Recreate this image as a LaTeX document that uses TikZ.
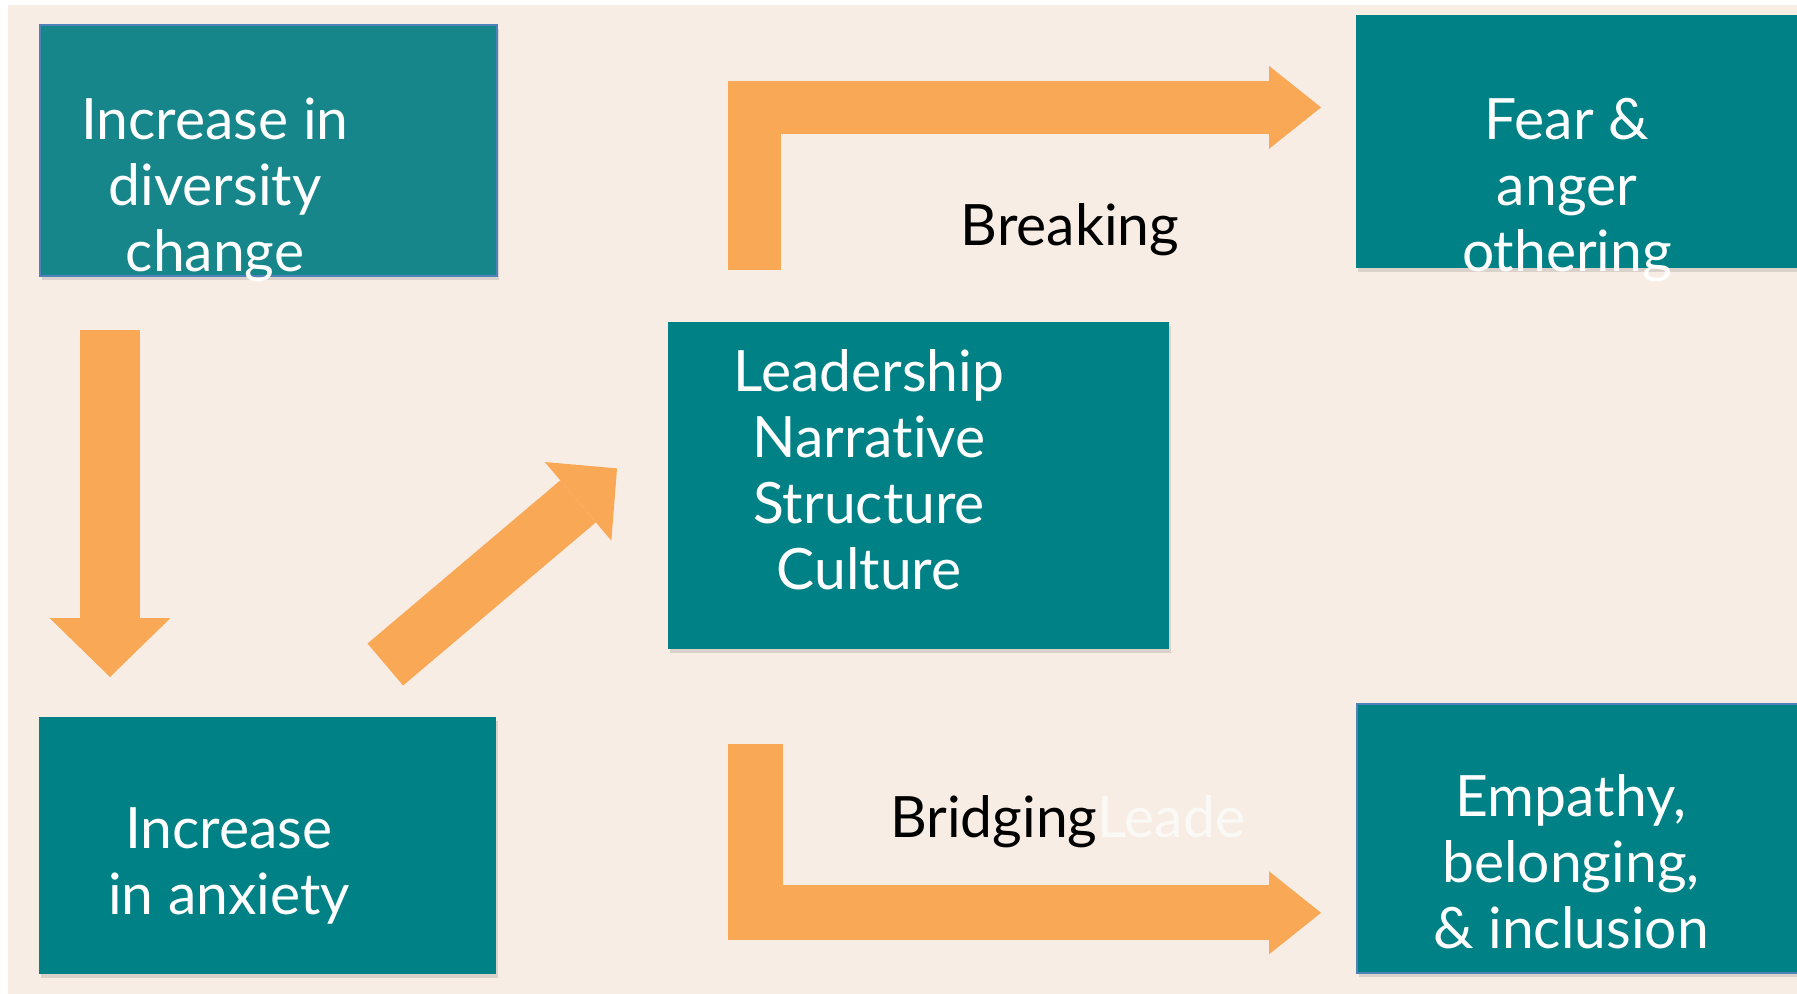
\documentclass[tikz,border=0pt]{standalone}
\usepackage{fontspec}
\setmainfont{Lato}[Ligatures={NoCommon,NoRare}]
\usepackage{tikz}
\usetikzlibrary{arrows.meta,shadows}

\definecolor{beige}{RGB}{247,237,228}
\definecolor{tealbox}{RGB}{0,129,133}
\definecolor{tealsoft}{RGB}{23,134,138}
\definecolor{edgeblue}{RGB}{79,129,189}
\definecolor{flowor}{RGB}{249,168,86}
\definecolor{ghost}{RGB}{251,249,246}

\begin{document}
\begin{tikzpicture}[x=0.5pt,y=-0.5pt,
    box/.style={rectangle,fill=tealbox,anchor=north west,inner sep=0pt,
      drop shadow={shadow xshift=1pt,shadow yshift=-2pt,opacity=0.25}},
    box text/.style={text=white,align=center,font=\fontsize{28.5}{33}\selectfont},
    flow label/.style={text=black,font=\fontsize{28.5}{33}\selectfont},
    flow/.style={draw=flowor,line cap=butt,line join=miter}]
  \useasboundingbox (0,0) rectangle (1797,994);
  \fill[white] (0,0) rectangle (1797,994);
  \fill[beige] (8,5) rectangle (1797,994);

  % boxes
  \node[box,fill=tealsoft,draw=edgeblue,line width=0.8pt,
        minimum width=228.5pt,minimum height=125.5pt] (div) at (39,24) {};
  \node[box,minimum width=228.5pt,minimum height=128.5pt] (anx) at (39,717) {};
  \node[box,minimum width=250.5pt,minimum height=163.5pt] (lead) at (668,322) {};
  \node[box,minimum width=222pt,minimum height=126.5pt] (fear) at (1356,15) {};
  \node[box,draw=edgeblue,line width=0.8pt,
        minimum width=222pt,minimum height=134.5pt] (emp) at (1356,703) {};

  % texts
  \node[box text] (div-txt) at (215,190) {Increase in\\diversity\\change};
  \node[box text] (anx-txt) at (229,866) {Increase\\in anxiety};
  \node[box text] (lead-txt) at (869,470) {Leadership\\Narrative\\Structure\\Culture};
  \node[box text] (fear-txt) at (1567,190) {Fear \&\\anger\\othering};
  \node[box text] (emp-txt) at (1571,862) {Empathy,\\belonging,\\\& inclusion};

  % arrows
  \draw[flow,line width=30pt,-{Triangle[width=60.5pt,length=29.5pt,line width=0pt]}]
    ([xshift=35.5pt,yshift=-26.5pt]div.south west) -- ([xshift=35.5pt,yshift=20pt]anx.north west);
  \draw[flow,line width=27.5pt,-{Triangle[width=51.5pt,length=25.5pt,line width=0pt]}]
    ([xshift=-55.75pt,yshift=26.25pt]anx.north east) -- ([xshift=-25.5pt,yshift=8.75pt]lead.west);
  \draw[flow,line width=26.5pt,-{Triangle[width=41.5pt,length=26pt,line width=0pt]}]
    ([xshift=43pt,yshift=26pt]lead.north west) |- ([xshift=-17.5pt,yshift=17.25pt]fear.west);
  \draw[flow,line width=27.5pt,-{Triangle[width=41.5pt,length=26pt,line width=0pt]}]
    ([xshift=43.5pt,yshift=-47pt]lead.south west) |- ([xshift=-17.5pt,yshift=-37.25pt]emp.west);

  \node[flow label,anchor=base] (breaking) at (1070,246) {Breaking};
  \node[flow label,anchor=base west] (bridging) at (883,837) {Bridging\textcolor{ghost}{Leade}};
\end{tikzpicture}
\end{document}
